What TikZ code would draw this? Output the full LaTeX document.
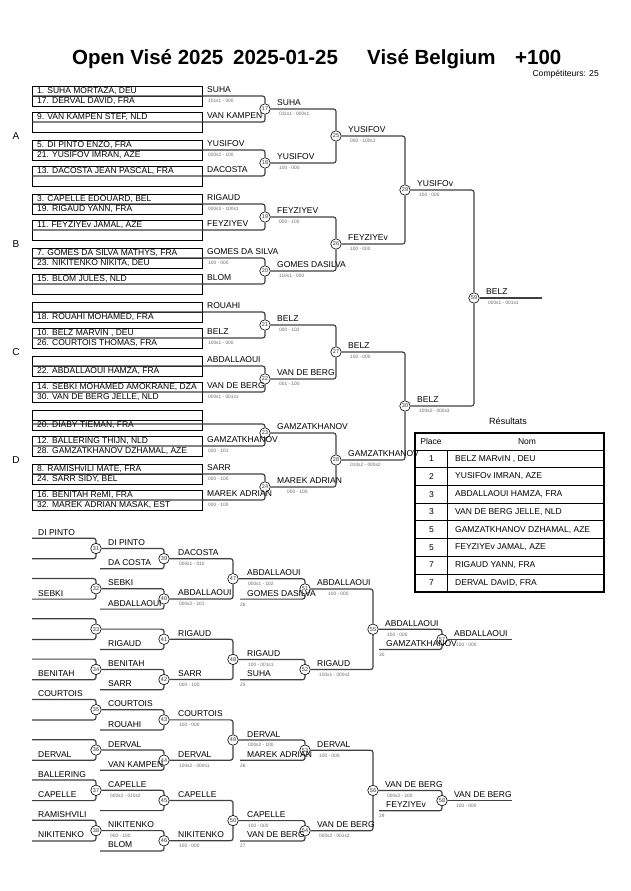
\documentclass[tikz,border=0pt]{standalone}
\usepackage{fontspec}
\setmainfont{Liberation Sans}
\newcommand{\namesize}{\fontsize{8.5}{10}\selectfont}
\newcommand{\scoresize}{\fontsize{4.8}{5}\selectfont}
\begin{document}
\begin{tikzpicture}[x=1pt,y=-1pt,
  every node/.style={inner sep=0pt},
  who/.style={anchor=base west,font=\namesize},
  entry/.style={anchor=west,font=\namesize,text height=6pt,text depth=0pt},
  res/.style={anchor=north west,font=\scoresize,text=black!60,text height=3.4pt,text depth=0pt},
  match/.style={circle,draw,fill=white,line width=0.6pt,minimum size=10.5pt,text=black!80,font=\fontsize{5.5}{6}\selectfont},
  link/.style={line width=1.2pt,draw=black!75,rounded corners=2.5pt},
  cell/.style={line width=0.8pt}]
\useasboundingbox (0,0) rectangle (630,891);

% title
\node[anchor=base west,font=\fontsize{20.5}{24}\selectfont\bfseries] (t1) at (72,64) {Open Visé 2025};
\node[anchor=base west,font=\fontsize{20.5}{24}\selectfont\bfseries] (t2) at (233,64) {2025-01-25};
\node[anchor=base west,font=\fontsize{20.5}{24}\selectfont\bfseries] (t3) at (367,64) {Visé Belgium};
\node[anchor=base west,font=\fontsize{20.5}{24}\selectfont\bfseries] (t4) at (515,64) {+100};
\node[anchor=base east,font=\fontsize{8.6}{10}\selectfont] (comp) at (599,76.5) {Compétiteurs: 25};

% pools
\foreach \p/\yy in {A/136,B/244,C/352,D/460}
  \node[font=\fontsize{10}{12}\selectfont] (pool\p) at (16,\yy) {\p};

% main bracket circles
\foreach \k in {0,...,7}{
  \pgfmathtruncatemacro\n{17+\k}
  \node[match] (m\n) at (265,109+54*\k) {\n};
}
\foreach \k in {0,...,3}{
  \pgfmathtruncatemacro\n{25+\k}
  \node[match] (m\n) at (336,136+108*\k) {\n};
}
\node[match] (m29) at (405,190) {29};
\node[match] (m30) at (405,406) {30};
\node[match] (m59) at (474,298) {59};

% entry boxes
\foreach \k/\off/\ea/\eb/\ec/\ed in {
  0/10/{1. SUHA MORTAZA, DEU}/{17. DERVAL DAVID, FRA}/{9. VAN KAMPEN STEF, NLD}/{},
  1/10/{5. DI PINTO ENZO, FRA}/{21. YUSIFOV IMRAN, AZE}/{13. DACOSTA JEAN PASCAL, FRA}/{},
  2/10/{3. CAPELLE EDOUARD, BEL}/{19. RIGAUD YANN, FRA}/{11. FEYZIYEv JAMAL, AZE}/{},
  3/10/{7. GOMES DA SILVA MATHYS, FRA}/{23. NIKITENKO NIKITA, DEU}/{15. BLOM JULES, NLD}/{},
  4/10/{}/{18. ROUAHI MOHAMED, FRA}/{10. BELZ MARVIN , DEU}/{26. COURTOIS THOMAS, FRA},
  5/10/{}/{22. ABDALLAOUI HAMZA, FRA}/{14. SEBKI MOHAMED AMOKRANE, DZA}/{30. VAN DE BERG JELLE, NLD},
  6/14/{}/{20. DIABY TIEMAN, FRA}/{12. BALLERING THIJN, NLD}/{28. GAMZATKHANOV DZHAMAL, AZE},
  7/10/{8. RAMISHvILI MATE, FRA}/{24. SARR SIDY, BEL}/{16. BENITAH ReMI, FRA}/{32. MAREK ADRIAN MASAK, EST}}{
  \pgfmathsetmacro\yy{86+54*\k}
  \pgfmathtruncatemacro\n{17+\k}
  \draw[cell] (32,\yy) rectangle (202,\yy+20) (32,\yy+26) rectangle (202,\yy+46);
  \draw[cell] (32,\yy+10) -- (202,\yy+10);
  \coordinate (a\n) at (32,\yy+\off);
  \coordinate (b\n) at (32,\yy+36);
  \draw[link] (a\n) -| (m\n);
  \draw[link] (b\n) -| (m\n);
  \node[entry] (ea\n) at (37,\yy+4.8) {\ea};
  \node[entry] (eb\n) at (37,\yy+14.8) {\eb};
  \node[entry] (ec\n) at (37,\yy+30.8) {\ec};
  \node[entry] (ed\n) at (37,\yy+40.8) {\ed};
}

% first round results
\foreach \k/\ta/\sa/\tb/\sb in {
  0/SUHA/{101s1 - 000}/{VAN KAMPEN}/{},
  1/YUSIFOV/{000s2 - 100}/DACOSTA/{},
  2/RIGAUD/{000s3 - 100s1}/FEYZIYEV/{},
  3/{GOMES DA SILVA}/{100 - 000}/BLOM/{},
  4/ROUAHI/{}/BELZ/{100s1 - 000},
  5/ABDALLAOUI/{}/{VAN DE BERG}/{000s1 - 001s1},
  6/{}/{}/GAMZATKHANOV/{000 - 101},
  7/SARR/{000 - 100}/{MAREK ADRIAN}/{000 - 100}}{
  \pgfmathsetmacro\yy{86+54*\k}
  \pgfmathtruncatemacro\n{17+\k}
  \node[who] (wa\n) at (207,\yy+6.7) {\ta};
  \node[res] (sa\n) at (208,\yy+13.3) {\sa};
  \node[who] (wb\n) at (207,\yy+32.7) {\tb};
  \node[res] (sb\n) at (208,\yy+39.3) {\sb};
}

% later rounds
\foreach \a/\b in {17/25,18/25,19/26,20/26,21/27,22/27,23/28,24/28,25/29,26/29,27/30,28/30,29/59,30/59}
  \draw[link] (m\a) -| (m\b);
\coordinate (fin) at (542,298);
\draw[link] (m59) -- (fin);

\foreach \m/\t/\s in {17/SUHA/{011s1 - 000s1}, 18/YUSIFOV/{100 - 000}, 19/FEYZIYEV/{000 - 100},
  20/{GOMES DASILVA}/{110s1 - 000}, 21/BELZ/{000 - 102}, 22/{VAN DE BERG}/{001 - 100},
  23/GAMZATKHANOV/{}, 25/YUSIFOV/{000 - 100s1}, 26/FEYZIYEv/{100 - 000}, 27/BELZ/{100 - 000},
  28/GAMZATKHANOV/{010s2 - 000s2}, 29/YUSIFOv/{100 - 000}, 30/BELZ/{100s2 - 000s3}, 59/BELZ/{000s1 - 001s1}}
  \path (m\m) ++(12,-3.3) node[who] (w\m) {\t} ++(2,6.6) node[res] (s\m) {\s};
\path (m24) ++(12,-3.3) node[who] (w24) {MAREK ADRIAN} ++(10,6.6) node[res] (s24) {000 - 100};

% results table
\node[font=\fontsize{9}{11}\selectfont] (restitle) at (508,421) {Résultats};
\draw[cell] (447.5,450) -- (447.5,591.7);
\foreach \r in {0,...,7}
  \draw[cell] (415,450+17.7*\r) -- (604,450+17.7*\r);
\draw[line width=1.6pt] (415,432.7) rectangle (604,591.7);
\node[font=\fontsize{8.5}{10}\selectfont] (hplace) at (431,441.3) {Place};
\node[font=\fontsize{8.5}{10}\selectfont] (hnom) at (527,441.3) {Nom};
\foreach \r/\pl/\rname in {1/1/{BELZ MARvIN , DEU},2/2/{YUSIFOv IMRAN, AZE},3/3/{ABDALLAOUI HAMZA, FRA},
  4/3/{VAN DE BERG JELLE, NLD},5/5/{GAMZATKHANOV DZHAMAL, AZE},6/5/{FEYZIYEv JAMAL, AZE},
  7/7/{RIGAUD YANN, FRA},8/7/{DERVAL DAvID, FRA}}{
  \node[font=\fontsize{8.5}{10}\selectfont] (pl\r) at (431.5,441.15+17.7*\r) {\pl};
  \node[anchor=west,font=\fontsize{8.5}{10}\selectfont] (rn\r) at (455,441.15+17.7*\r) {\rname};
}

% repechage, first column
\foreach \i/\ua/\la in {0/{DI PINTO}/{},1/{}/SEBKI,2/{}/{},3/{}/BENITAH,4/COURTOIS/{},5/{}/DERVAL,
  6/BALLERING/CAPELLE,7/RAMISHVILI/NIKITENKO}{
  \pgfmathsetmacro\yy{548.5+40.3*\i}
  \pgfmathtruncatemacro\n{31+\i}
  \node[match] (m\n) at (96,\yy) {\n};
  \coordinate (u\n) at (32,\yy-10.3);
  \coordinate (l\n) at (32,\yy+10.3);
  \draw[link] (u\n) -| (m\n);
  \draw[link] (l\n) -| (m\n);
  \node[who] (wu\n) at (38,\yy-13.3) {\ua};
  \node[who] (wl\n) at (38,\yy+7.3) {\la};
}

% repechage, second column
\foreach \i/\ua/\us/\la in {0/{DI PINTO}/{}/{DA COSTA},1/SEBKI/{}/ABDALLAOUI,2/{}/{}/RIGAUD,
  3/BENITAH/{}/SARR,4/COURTOIS/{}/ROUAHI,5/DERVAL/{}/{VAN KAMPEN},
  6/CAPELLE/{000s2 - 010s2}/{},7/NIKITENKO/{000 - 100}/BLOM}{
  \pgfmathsetmacro\yy{548.5+40.3*\i}
  \pgfmathtruncatemacro\n{39+\i}
  \pgfmathtruncatemacro\p{31+\i}
  \node[match] (m\n) at (164,\yy+10.15) {\n};
  \coordinate (l\n) at (100,\yy+20.3);
  \draw[link] (m\p) -| (m\n);
  \draw[link] (l\n) -| (m\n);
  \node[who] (wu\n) at (108,\yy-3) {\ua};
  \node[res] (su\n) at (110,\yy+3.3) {\us};
  \node[who] (wl\n) at (108,\yy+17.3) {\la};
}

% repechage, later columns
\node[match] (m47) at (233,578.8) {47};
\node[match] (m48) at (233,659.4) {48};
\node[match] (m49) at (233,740) {49};
\node[match] (m50) at (233,820.6) {50};
\node[match] (m51) at (305,588.95) {51};
\node[match] (m52) at (305,669.55) {52};
\node[match] (m53) at (305,750.15) {53};
\node[match] (m54) at (305,830.75) {54};
\node[match] (m55) at (373,629.25) {55};
\node[match] (m56) at (373,790.45) {56};
\node[match] (m57) at (442,639.4) {57};
\node[match] (m58) at (442,800.6) {58};

\foreach \a/\b in {39/47,40/47,41/48,42/48,43/49,44/49,45/50,46/50,47/51,48/52,49/53,50/54,
  51/55,52/55,53/56,54/56,55/57,56/58}
  \draw[link] (m\a) -| (m\b);
\foreach \m/\xx/\yy in {51/240/599.1,52/240/679.7,53/240/760.3,54/240/840.9,57/379/649.55,58/379/810.75}{
  \coordinate (l\m) at (\xx,\yy);
  \draw[link] (l\m) -| (m\m);
}
\coordinate (f57) at (512,639.4);
\coordinate (f58) at (512,800.6);
\draw[link] (m57) -- (f57);
\draw[link] (m58) -- (f58);

\foreach \m/\t/\s in {39/DACOSTA/{000s1 - 010},40/ABDALLAOUI/{000s2 - 101},41/RIGAUD/{},42/SARR/{000 - 100},
  43/COURTOIS/{100 - 000},44/DERVAL/{100s2 - 000s1},45/CAPELLE/{},46/NIKITENKO/{100 - 000},
  47/ABDALLAOUI/{000s1 - 102},48/RIGAUD/{100 - 001s1},49/DERVAL/{000s2 - 100},50/CAPELLE/{100 - 000}}
  \path (m\m) ++(14,-3) node[who] (w\m) {\t} ++(1,6.3) node[res] (s\m) {\s};
\foreach \m/\t/\s in {52/RIGAUD/{100s1 - 000s3},53/DERVAL/{100 - 000},54/{VAN DE BERG}/{000s2 - 001s2},
  55/ABDALLAOUI/{100 - 000},56/{VAN DE BERG}/{000s2 - 100},57/ABDALLAOUI/{100 - 000},58/{VAN DE BERG}/{100 - 000}}
  \path (m\m) ++(12,-3) node[who] (w\m) {\t} ++(2,6.3) node[res] (s\m) {\s};
\path (m51) ++(12,-3) node[who] (w51) {ABDALLAOUI} ++(11,6.3) node[res] (s51) {100 - 000};

% losers entering
\foreach \m/\t/\g in {51/{GOMES DASILVA}/26,52/SUHA/25,53/{MAREK ADRIAN}/26,54/{VAN DE BERG}/27,
  57/GAMZATKHANOV/30,58/FEYZIYEv/29}{
  \path (l\m) ++(7,-3) node[who] (wl\m) {\t};
  \path (l\m) ++(0,3.3) node[res] (g\m) {\g};
}
\end{tikzpicture}
\end{document}
